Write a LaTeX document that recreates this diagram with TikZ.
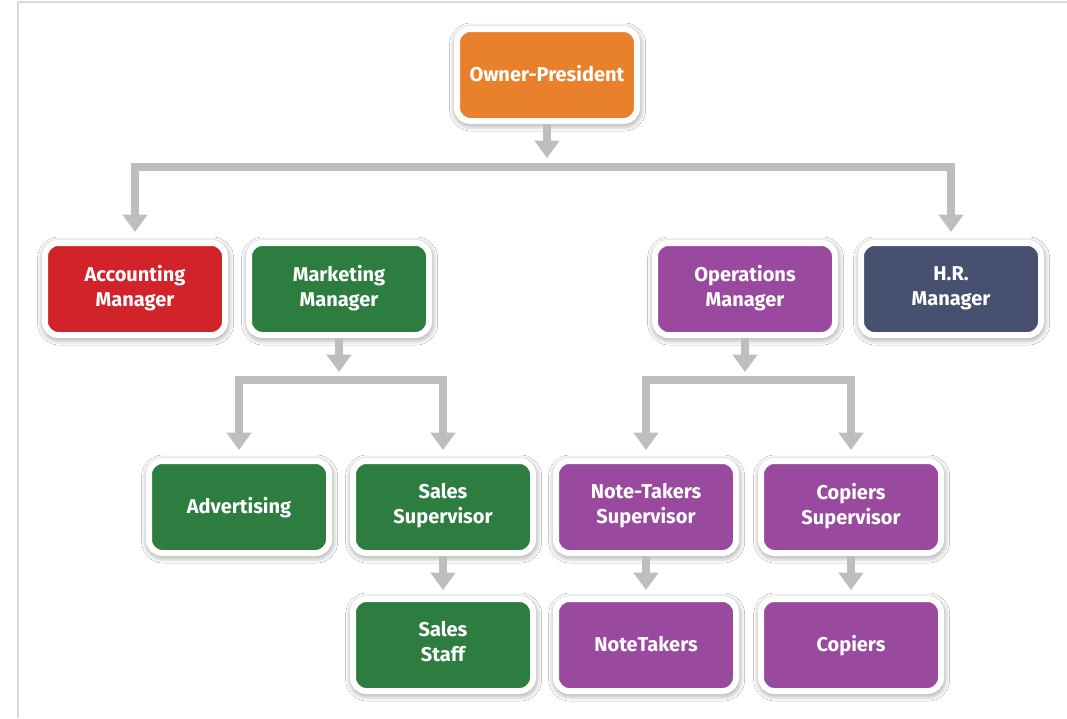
\documentclass[tikz,border=0pt]{standalone}
\usepackage{fontspec}
\setmainfont{Fira Sans}
\usetikzlibrary{arrows.meta,shadows.blur,calc}
\definecolor{cOrange}{RGB}{232,128,44}
\definecolor{cRed}{RGB}{210,35,42}
\definecolor{cGreen}{RGB}{45,125,65}
\definecolor{cPurple}{RGB}{154,74,158}
\definecolor{cNavy}{RGB}{71,80,112}
\definecolor{cConn}{RGB}{190,190,190}
\definecolor{cFrame}{RGB}{218,218,218}
\tikzset{
  orgbox/.style={draw=white, line width=4.5pt, rounded corners=10pt,
    minimum width=135pt, minimum height=69pt, align=center, text=white,
    font=\bfseries\fontsize{15}{18.75}\selectfont,
    execute at begin node=\rule[-4.7pt]{0pt}{19.7pt},
    execute at end node=\rule[-4.7pt]{0pt}{19.7pt},
    blur shadow={shadow xshift=0.5pt, shadow yshift=-1.5pt, shadow blur steps=14,
      shadow blur radius=6pt, shadow opacity=60}},
  conn/.style={draw=cConn, line width=6pt, line join=miter,
    -{Triangle[width=18pt,length=13pt]}},
  conn2/.style={draw=cConn, line width=6pt, line join=miter,
    {Triangle[width=18pt,length=13pt]}-{Triangle[width=18pt,length=13pt]},
    shorten <=6pt, shorten >=6pt},
}
\begin{document}
\begin{tikzpicture}[x=0.75pt,y=-0.75pt]
\useasboundingbox (0,0) rectangle (1067,718);
\fill[white] (0,0) rectangle (1067,718);
\draw[cFrame, line width=1.5pt] (18,718) -- (18,2) -- (1067,2);

\node[orgbox, fill=cOrange] (owner) at (547,75) {Owner-President};
\node[orgbox, fill=cRed] (acc) at (135,289) {Accounting\\Manager};
\node[orgbox, fill=cGreen] (mkt) at (339,289) {Marketing\\Manager};
\node[orgbox, fill=cPurple] (ops) at (745,289) {Operations\\Manager};
\node[orgbox, fill=cNavy] (hr) at (951,289) {H.R.\\Manager};
\node[orgbox, fill=cGreen] (adv) at (239,507) {Advertising};
\node[orgbox, fill=cGreen] (ssup) at (443,507) {Sales\\Supervisor};
\node[orgbox, fill=cPurple] (ntsup) at (646,507) {Note-Takers\\Supervisor};
\node[orgbox, fill=cPurple] (csup) at (851,507) {Copiers\\Supervisor};
\node[orgbox, fill=cGreen] (sstaff) at (443,645) {Sales\\Staff};
\node[orgbox, fill=cPurple] (nt) at (646,645) {NoteTakers};
\node[orgbox, fill=cPurple] (cop) at (851,645) {Copiers};

\coordinate (t1) at (0,158);
\coordinate (b1) at (547,167);
\coordinate (t2) at (0,372);
\coordinate (b2) at (339,380);
\coordinate (b3) at (745,380);
\coordinate (t3) at (0,590);

\draw[conn] (owner.south) -- (owner.south |- t1);
\draw[conn2] (acc.north) |- (b1) -| (hr.north);
\draw[conn] (mkt.south) -- (mkt.south |- t2);
\draw[conn2] (adv.north) |- (b2) -| (ssup.north);
\draw[conn] (ops.south) -- (ops.south |- t2);
\draw[conn2] (ntsup.north) |- (b3) -| (csup.north);
\draw[conn] (ssup.south) -- (ssup.south |- t3);
\draw[conn] (ntsup.south) -- (ntsup.south |- t3);
\draw[conn] (csup.south) -- (csup.south |- t3);
\end{tikzpicture}
\end{document}
